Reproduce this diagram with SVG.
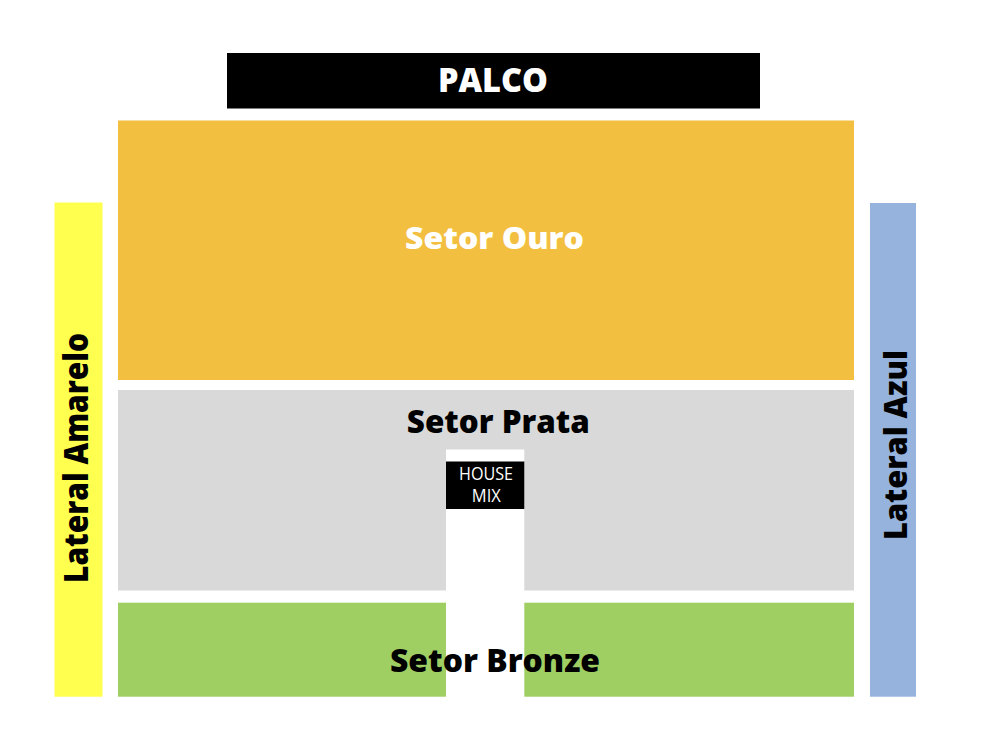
<svg xmlns="http://www.w3.org/2000/svg" width="984" height="746" viewBox="0 0 984 746">
<style>
.lbl{font-family:"Open Sans","Liberation Sans",sans-serif;font-weight:800;text-anchor:middle}
.small{font-family:"Open Sans","Liberation Sans",sans-serif;font-weight:400;text-anchor:middle;fill:#ffffff;font-size:18px}
</style>
<rect x="0" y="0" width="984" height="746" fill="#ffffff"/>
<g id="palco">
<rect x="227" y="53" width="533" height="55.5" fill="#000000"/>
<text class="lbl" x="493" y="91.7" font-size="33" fill="#ffffff" textLength="110" lengthAdjust="spacingAndGlyphs">PALCO</text>
</g>
<g id="setor-ouro">
<rect x="118" y="120.5" width="736" height="259.5" fill="#F3BF41"/>
<text class="lbl" x="494.5" y="249" font-size="30" fill="#ffffff" textLength="179" lengthAdjust="spacingAndGlyphs">Setor Ouro</text>
</g>
<g id="setor-prata">
<path d="M118,390 H854 V590.5 H524.3 V449.5 H446 V590.5 H118 Z" fill="#D9D9D9"/>
<text class="lbl" x="498.3" y="433.3" font-size="31" fill="#000000" textLength="183" lengthAdjust="spacingAndGlyphs">Setor Prata</text>
</g>
<g id="house-mix">
<rect x="446" y="461.5" width="78.3" height="47.5" fill="#000000"/>
<text class="small" x="486" y="480" textLength="54" lengthAdjust="spacingAndGlyphs">HOUSE</text>
<text class="small" x="486.3" y="502.3" textLength="29" lengthAdjust="spacingAndGlyphs">MIX</text>
</g>
<g id="setor-bronze">
<rect x="118" y="602.7" width="328" height="94" fill="#9FCE63"/>
<rect x="524.3" y="602.7" width="329.7" height="94" fill="#9FCE63"/>
<text class="lbl" x="495" y="671.7" font-size="32" fill="#000000" textLength="210" lengthAdjust="spacingAndGlyphs">Setor Bronze</text>
</g>
<g id="lateral-amarelo">
<rect x="54.5" y="202.5" width="48" height="494.2" fill="#FFFF50"/>
<text class="lbl" transform="translate(88,458) rotate(-90)" x="0" y="0" font-size="33" fill="#000000" textLength="250" lengthAdjust="spacingAndGlyphs">Lateral Amarelo</text>
</g>
<g id="lateral-azul">
<rect x="870" y="203" width="46" height="493.7" fill="#95B3DD"/>
<text class="lbl" transform="translate(907,445) rotate(-90)" x="0" y="0" font-size="31" fill="#000000" textLength="190" lengthAdjust="spacingAndGlyphs">Lateral Azul</text>
</g>
<g id="connectors"/>
</svg>
